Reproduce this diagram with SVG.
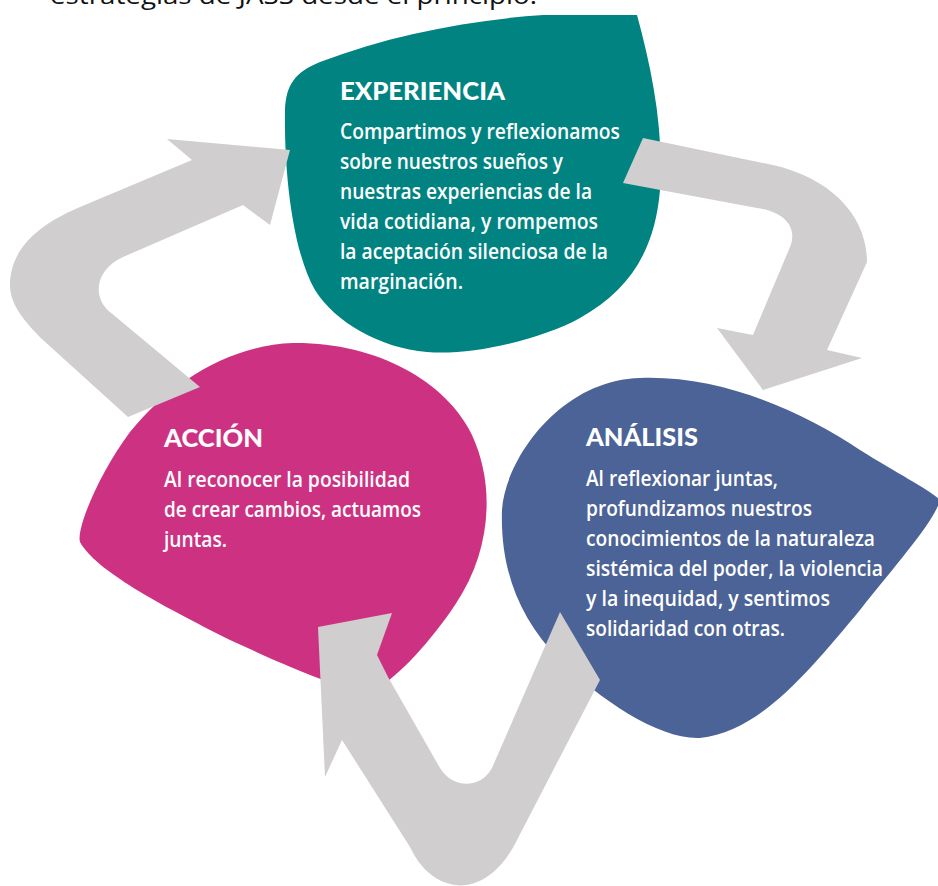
<svg xmlns="http://www.w3.org/2000/svg" width="938" height="886" viewBox="0 0 938 886">
<style>
.head{font-family:Lato,"Open Sans","Liberation Sans",sans-serif;font-weight:900;font-size:24px;fill:#ffffff}
.body{font-family:"Open Sans","Noto Sans","Liberation Sans",sans-serif;font-weight:600;font-size:21px;fill:#ffffff}
.top{font-family:"Open Sans","Liberation Sans",sans-serif;font-size:24px;fill:#111111}
.arrow{fill:#d0cecf}
</style>
<rect width="938" height="886" fill="#ffffff"/>
<text class="top" x="50" y="4" textLength="487" lengthAdjust="spacingAndGlyphs">estrategias de JASS desde el principio.</text>

<g id="node-experiencia">
<path fill="#018481" d="M 543 15 L 637 15 C 652 70, 664 130, 660 190 C 655 250, 630 290, 580 318 C 540 340, 470 356, 427 352 C 380 348, 335 322, 315 290 C 292 250, 284 170, 285 110 C 286 85, 295 72, 320 62 C 390 35, 470 20, 543 15 Z"/>
<text class="head" x="340" y="100" textLength="165" lengthAdjust="spacingAndGlyphs">EXPERIENCIA</text>
<text class="body" x="340" y="139" textLength="280" lengthAdjust="spacingAndGlyphs">Compartimos y reflexionamos</text>
<text class="body" x="340" y="169" textLength="223" lengthAdjust="spacingAndGlyphs">sobre nuestros sueños y</text>
<text class="body" x="340" y="199" textLength="252" lengthAdjust="spacingAndGlyphs">nuestras experiencias de la</text>
<text class="body" x="340" y="229" textLength="258" lengthAdjust="spacingAndGlyphs">vida cotidiana, y rompemos</text>
<text class="body" x="340" y="259" textLength="268" lengthAdjust="spacingAndGlyphs">la aceptación silenciosa de la</text>
<text class="body" x="340" y="289" textLength="123" lengthAdjust="spacingAndGlyphs">marginación.</text>
</g>

<g id="node-accion">
<path fill="#cd3282" d="M 293 343 C 375 342, 445 380, 472 435 C 495 485, 492 550, 455 605 C 430 642, 400 675, 375 690 C 345 692, 300 672, 230 640 C 160 605, 95 570, 80 542 C 76 528, 100 472, 130 432 C 170 382, 230 345, 293 343 Z"/>
<text class="head" x="164" y="447" textLength="99" lengthAdjust="spacingAndGlyphs">ACCIÓN</text>
<text class="body" x="164" y="487" textLength="246" lengthAdjust="spacingAndGlyphs">Al reconocer la posibilidad</text>
<text class="body" x="164" y="517" textLength="257" lengthAdjust="spacingAndGlyphs">de crear cambios, actuamos</text>
<text class="body" x="164" y="547" textLength="63" lengthAdjust="spacingAndGlyphs">juntas.</text>
</g>

<g id="node-analisis">
<path fill="#4c6397" d="M 640 378 C 720 375, 800 410, 860 450 C 900 475, 930 490, 940 500 C 935 520, 900 560, 860 610 C 810 670, 760 732, 700 738 C 660 740, 600 700, 560 660 C 520 620, 500 570, 502 510 C 505 460, 560 380, 640 378 Z"/>
<text class="head" x="586" y="446" textLength="112" lengthAdjust="spacingAndGlyphs">ANÁLISIS</text>
<text class="body" x="586" y="486" textLength="192" lengthAdjust="spacingAndGlyphs">Al reflexionar juntas,</text>
<text class="body" x="586" y="516" textLength="226" lengthAdjust="spacingAndGlyphs">profundizamos nuestros</text>
<text class="body" x="586" y="546" textLength="289" lengthAdjust="spacingAndGlyphs">conocimientos de la naturaleza</text>
<text class="body" x="586" y="576" textLength="297" lengthAdjust="spacingAndGlyphs">sistémica del poder, la violencia</text>
<text class="body" x="586" y="606" textLength="244" lengthAdjust="spacingAndGlyphs">y la inequidad, y sentimos</text>
<text class="body" x="586" y="636" textLength="199" lengthAdjust="spacingAndGlyphs">solidaridad con otras.</text>
</g>

<g id="connectors">
<path id="arrow-accion-experiencia" class="arrow" d="M 128 417 L 43 340 C 25 322, 10 305, 10 285 C 10 255, 30 228, 80 207 L 192 160 L 167 139 L 290 150 L 270 225 L 243 205 L 123 257 C 95 270, 92 297, 110 312 L 200 387 Z"/>
<path id="arrow-experiencia-analisis" class="arrow" d="M 643 138 L 773 165 C 830 178, 867 215, 867 262 L 827 350 L 862 358 L 763 390 L 717 328 L 753 335 L 790 247 C 798 228, 785 212, 757 208 L 623 183 Z"/>
<path id="arrow-analisis-accion" class="arrow" d="M 560 612 L 600 680 L 517 840 C 500 875, 475 888, 455 885 C 435 882, 420 868, 410 847 L 342 740 L 325 777 L 318 627 L 392 613 L 377 655 L 388 677 L 440 768 C 452 788, 480 790, 492 768 Z"/>
</g>
</svg>
